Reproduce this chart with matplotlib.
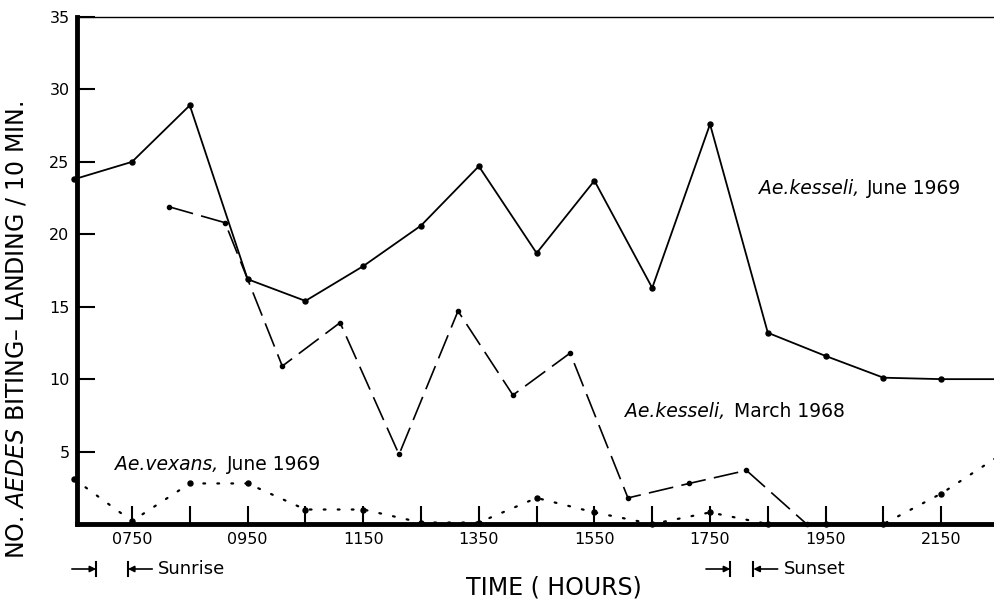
import matplotlib
matplotlib.use("Agg")
import matplotlib.pyplot as plt
from matplotlib.transforms import blended_transform_factory

plt.rcParams['font.family'] = ['DejaVu Sans']
plt.rcParams['mathtext.fontset'] = 'dejavusans'

# ---- data (time in decimal hours) ----
kesseli_1969_time = [6.83, 7.83, 8.83, 9.83, 10.83, 11.83, 12.83, 13.83, 14.83,
                     15.83, 16.83, 17.83, 18.83, 19.83, 20.83, 21.83, 22.83]
kesseli_1969_count = [23.8, 25.0, 28.9, 16.9, 15.4, 17.8, 20.6, 24.7, 18.7,
                      23.7, 16.3, 27.6, 13.2, 11.6, 10.1, 10.0, 10.0]

kesseli_1968_time = [8.47, 9.44, 10.43, 11.43, 12.45, 13.47, 14.42, 15.41,
                     16.41, 17.47, 18.46, 19.50]
kesseli_1968_count = [21.9, 20.8, 10.9, 13.9, 4.8, 14.7, 8.9, 11.8,
                      1.8, 2.8, 3.7, 0.0]

vexans_1969_time = [6.83, 7.83, 8.83, 9.83, 10.83, 11.83, 12.83, 13.83, 14.83,
                    15.83, 16.83, 17.83, 18.83, 19.83, 20.83, 21.83, 22.83]
vexans_1969_count = [3.1, 0.2, 2.8, 2.8, 1.0, 1.0, 0.1, 0.1, 1.8,
                     0.8, 0.0, 0.8, 0.0, 0.0, 0.0, 2.1, 4.7]

major_ticks = [7.83, 9.83, 11.83, 13.83, 15.83, 17.83, 19.83, 21.83]
major_labels = ["0750", "0950", "1150", "1350", "1550", "1750", "1950", "2150"]
minor_ticks = [8.83, 10.83, 12.83, 14.83, 16.83, 18.83, 20.83]
y_ticks = [5, 10, 15, 20, 25, 30, 35]

sunrise_bounds = (7.21, 7.76)
sunset_bounds = (18.18, 18.58)

# ---- figure ----
W, H = 995, 602
fig = plt.figure(figsize=(W / 100, H / 100), dpi=100)
ax = fig.add_axes([76.5 / W, 1 - 524 / H, 1 - 76.5 / W, (524 - 17) / H])

ax.plot(kesseli_1969_time, kesseli_1969_count, color='black', lw=1.3,
        marker='o', ms=3.6, clip_on=False)
ax.plot(kesseli_1968_time, kesseli_1968_count, color='black', lw=1.2,
        linestyle=(0, (15, 5)), marker='o', ms=3.0, clip_on=False)
ax.plot(vexans_1969_time, vexans_1969_count, color='black', lw=1.6,
        linestyle=(0, (0.8, 5.5)), dash_capstyle='round',
        marker='o', ms=3.6, clip_on=False)

ax.set_xlim(6.87, 22.76)
ax.set_ylim(0, 35)

ax.set_xticks(major_ticks)
ax.set_xticklabels(major_labels)
ax.set_xticks(minor_ticks, minor=True)
ax.set_yticks(y_ticks)
ax.tick_params(axis='x', which='both', direction='in', length=13, width=1.5,
               labelsize=11.5, pad=6)
ax.tick_params(axis='y', direction='in', length=13, width=1.5,
               labelsize=11.5, pad=5)

for side in ['left', 'bottom']:
    ax.spines[side].set_linewidth(3.5)
    ax.spines[side].set_zorder(3)
ax.spines['top'].set_linewidth(1.0)
ax.spines['right'].set_visible(False)


def species_label(x, y, italic_part, normal_part, size=13.5):
    t1 = ax.text(x, y, italic_part, fontsize=size, style='italic',
                 va='baseline', ha='left')
    ax.annotate(normal_part, xy=(1, 0), xycoords=t1, xytext=(6, 0),
                textcoords='offset points', fontsize=size,
                va='bottom', ha='left')


species_label(18.67, 22.8, "Ae.kesseli,", "June 1969")
species_label(16.36, 7.4, "Ae.kesseli,", "March 1968")
species_label(7.54, 3.7, "Ae.vexans,", "June 1969")

# axis labels
fig.text(17 / W, 1 - 330 / H, r"NO. $\mathit{AEDES}$ BITING– LANDING / 10 MIN.",
         rotation=90, fontsize=17, ha='center', va='center')
fig.text(554 / W, 1 - 588 / H, "TIME ( HOURS)", fontsize=17,
         ha='center', va='center')

# sunrise / sunset markers
blend = blended_transform_factory(ax.transData, ax.transAxes)
yb = (524 - 569) / (524 - 17)
bar_h = 7 / (524 - 17)
arrow_len = 0.42


def bracket(x0, x1, label):
    ap = dict(arrowstyle='-|>', color='black', lw=1.2, mutation_scale=9,
              shrinkA=0, shrinkB=0)
    ax.annotate('', xy=(x0, yb), xycoords=blend,
                xytext=(x0 - arrow_len, yb), textcoords=blend,
                arrowprops=ap, annotation_clip=False)
    ax.plot([x0, x0], [yb - bar_h, yb + bar_h], color='black', lw=1.5,
            transform=blend, clip_on=False)
    ax.annotate('', xy=(x1, yb), xycoords=blend,
                xytext=(x1 + arrow_len, yb), textcoords=blend,
                arrowprops=ap, annotation_clip=False)
    ax.plot([x1, x1], [yb - bar_h, yb + bar_h], color='black', lw=1.5,
            transform=blend, clip_on=False)
    ax.text(x1 + arrow_len + 0.1, yb, label, transform=blend, fontsize=13,
            ha='left', va='center')


bracket(sunrise_bounds[0], sunrise_bounds[1], "Sunrise")
bracket(sunset_bounds[0], sunset_bounds[1], "Sunset")

fig.savefig("out.png", dpi=100)
